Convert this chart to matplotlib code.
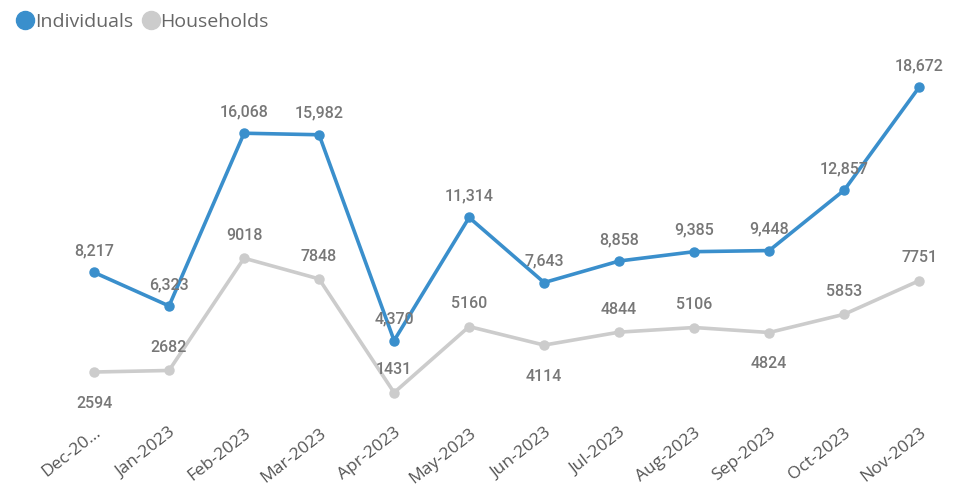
import matplotlib.pyplot as plt
from matplotlib.lines import Line2D

months = ['Dec-20...', 'Jan-2023', 'Feb-2023', 'Mar-2023', 'Apr-2023', 'May-2023',
          'Jun-2023', 'Jul-2023', 'Aug-2023', 'Sep-2023', 'Oct-2023', 'Nov-2023']
individuals = [8217, 6323, 16068, 15982, 4370, 11314, 7643, 8858, 9385, 9448, 12857, 18672]
households = [2594, 2682, 9018, 7848, 1431, 5160, 4114, 4844, 5106, 4824, 5853, 7751]
# where the households label sits: 1 above, -1 below
hh_side = [-1, 1, 1, 1, 1, 1, -1, 1, 1, -1, 1, 1]

blue = '#3A8FCC'
grey = '#CCCCCC'
lab_col = '#777777'

fig = plt.figure(figsize=(9.6, 4.88), dpi=100)
ax = fig.add_axes([40 / 960, 70 / 488, 910 / 960, 358 / 488])

x = list(range(len(months)))
ax.plot(x, households, color=grey, lw=2.6, marker='o', ms=6.5, zorder=2)
ax.plot(x, individuals, color=blue, lw=2.6, marker='o', ms=6.5, zorder=3)

lab_font = dict(fontsize=11.5, color=lab_col, family='Roboto', fontweight='medium', zorder=4)
for i, v in enumerate(individuals):
    ax.annotate(f'{v:,}', (i, v), xytext=(0, 10), textcoords='offset points',
                ha='center', va='bottom', **lab_font)
for i, v in enumerate(households):
    if hh_side[i] > 0:
        ax.annotate(f'{v}', (i, v), xytext=(0, 11), textcoords='offset points',
                    ha='center', va='bottom', **lab_font)
    else:
        ax.annotate(f'{v}', (i, v), xytext=(0, -17), textcoords='offset points',
                    ha='center', va='top', **lab_font)

ax.set_xlim(-0.72, 11.41)
ax.set_ylim(0, 20200)
ax.set_yticks([])
ax.set_xticks(x)
ax.set_xticklabels(months, rotation=38, ha='right', rotation_mode='anchor',
                   fontsize=12.5, color='#555555', family='Open Sans')
ax.tick_params(axis='x', length=0, pad=5)
for s in ax.spines.values():
    s.set_visible(False)

handles = [Line2D([], [], ls='none', marker='o', ms=13, color=blue),
           Line2D([], [], ls='none', marker='o', ms=13, color=grey)]
fig.legend(handles, ['Individuals', 'Households'], loc='upper left',
           bbox_to_anchor=(-0.002, 1.01), ncol=2, frameon=False,
           handletextpad=0.0, columnspacing=0.4, handlelength=1.0,
           prop={'family': 'Open Sans', 'size': 14}, labelcolor='#666666')

plt.savefig('out.png', dpi=100)
